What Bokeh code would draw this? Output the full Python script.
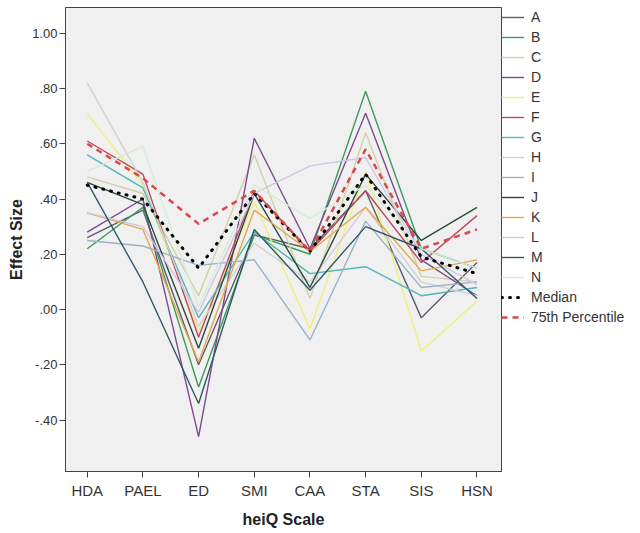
from bokeh.plotting import figure
from bokeh.models import FixedTicker, Legend, LegendItem, Range1d
from bokeh.embed import file_html
from bokeh.resources import INLINE

categories = ["HDA", "PAEL", "ED", "SMI", "CAA", "STA", "SIS", "HSN"]

A = [0.26, 0.36, -0.20, 0.27, 0.22, 0.43, -0.03, 0.17]
B = [0.22, 0.37, -0.28, 0.27, 0.20, 0.79, 0.22, 0.15]
C = [0.48, 0.42, 0.05, 0.56, 0.04, 0.64, 0.12, 0.10]
D = [0.28, 0.40, -0.46, 0.62, 0.22, 0.71, 0.18, 0.05]
E = [0.71, 0.45, -0.08, 0.39, -0.07, 0.50, -0.15, 0.03]
F = [0.61, 0.49, -0.10, 0.43, 0.21, 0.43, 0.17, 0.34]
G = [0.56, 0.44, -0.03, 0.28, 0.13, 0.155, 0.05, 0.08]
H = [0.82, 0.46, -0.06, 0.24, 0.10, 0.37, 0.10, 0.05]
I = [0.25, 0.23, 0.16, 0.18, -0.11, 0.32, 0.08, 0.10]
J = [0.46, 0.38, -0.14, 0.42, 0.08, 0.49, 0.25, 0.37]
K = [0.35, 0.29, -0.19, 0.36, 0.21, 0.37, 0.14, 0.18]
L = [0.35, 0.30, -0.01, 0.42, 0.52, 0.55, 0.20, 0.09]
M = [0.46, 0.10, -0.34, 0.29, 0.07, 0.30, 0.22, 0.04]
N = [0.50, 0.59, 0.01, 0.45, 0.33, 0.45, 0.22, 0.15]
median = [0.45, 0.40, 0.15, 0.42, 0.21, 0.49, 0.19, 0.13]
p75 = [0.60, 0.475, 0.31, 0.43, 0.21, 0.58, 0.22, 0.29]

series_names = ["A", "B", "C", "D", "E", "F", "G", "H", "I", "J", "K", "L", "M", "N"]
series_values = [A, B, C, D, E, F, G, H, I, J, K, L, M, N]
series_colors = ["#5c5c6e", "#3d9a5c", "#d4cfa8", "#7d4a8c", "#eef07a", "#c04860",
                 "#4fb8b8", "#d0d0da", "#9bb2c8", "#2c4a3c", "#e4a848", "#d4c4e4",
                 "#2e5a68", "#d4ecd4"]

y_ticks = [-0.4, -0.2, 0.0, 0.2, 0.4, 0.6, 0.8, 1.0]
y_tick_labels = ["-.40", "-.20", ".00", ".20", ".40", ".60", ".80", "1.00"]

xs = list(range(len(categories)))

p = figure(frame_width=436, frame_height=464, output_backend="svg", toolbar_location=None,
           x_range=Range1d(-0.39, 7.44), y_range=Range1d(-0.586, 1.093),
           min_border_left=65, min_border_right=139, min_border_top=7,
           min_border_bottom=62)

p.border_fill_color = "#ffffff"
p.background_fill_color = "#f0f0f0"
p.outline_line_color = "#444444"
p.outline_line_width = 1
p.xgrid.visible = False
p.ygrid.visible = False

items = []
for name, vals, col in zip(series_names, series_values, series_colors):
    r = p.line(xs, vals, line_color=col, line_width=1.4)
    items.append(LegendItem(label=name, renderers=[r]))

rm = p.line(xs, median, line_color="#000000", line_width=3, line_dash="1 7", line_cap="round")
items.append(LegendItem(label="Median", renderers=[rm]))
rp = p.line(xs, p75, line_color="#d9484c", line_width=2.5, line_dash="6 5")
items.append(LegendItem(label="75th Percentile", renderers=[rp]))

p.xaxis.ticker = FixedTicker(ticks=xs)
p.xaxis.major_label_overrides = {i: c for i, c in enumerate(categories)}
p.yaxis.ticker = FixedTicker(ticks=y_ticks)
p.yaxis.major_label_overrides = {t: l for t, l in zip(y_ticks, y_tick_labels)}

for ax in (p.xaxis[0], p.yaxis[0]):
    ax.minor_tick_line_color = None
    ax.major_tick_in = 0
    ax.major_tick_out = 6
    ax.major_tick_line_color = "#444444"
    ax.axis_line_color = "#444444"
    ax.major_label_text_font = "Liberation Sans"
    ax.major_label_text_color = "#333333"
    ax.axis_label_text_font = "Liberation Sans"
    ax.axis_label_text_font_style = "bold"
    ax.axis_label_text_font_size = "16px"
    ax.axis_label_text_color = "#222222"

p.xaxis.major_label_text_font_size = "15px"
p.yaxis.major_label_text_font_size = "13px"
p.xaxis.major_label_standoff = 4
p.yaxis.major_label_standoff = 2
p.xaxis.axis_label = "heiQ Scale"
p.yaxis.axis_label = "Effect Size"
p.xaxis.axis_label_standoff = 9
p.yaxis.axis_label_standoff = 4

legend = Legend(items=items, location="top_left", margin=0, padding=0, spacing=0,
                label_height=20, glyph_height=20, glyph_width=23, label_standoff=7,
                border_line_color=None, background_fill_alpha=0,
                label_text_font="Liberation Sans", label_text_font_size="14px",
                label_text_color="#333333")
p.add_layout(legend, "right")

open("out.html", "w").write(file_html(p, INLINE))
